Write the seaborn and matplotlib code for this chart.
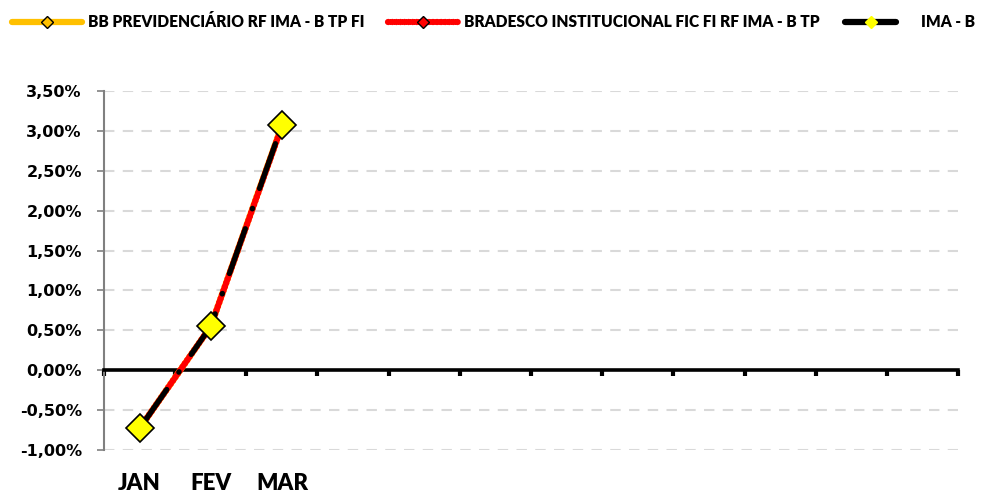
import numpy as np
import matplotlib.pyplot as plt
import seaborn as sns
from matplotlib.lines import Line2D
from matplotlib.ticker import FuncFormatter, MultipleLocator, FixedLocator, NullLocator

# Monthly returns (%)
months = ['JAN', 'FEV', 'MAR']
n_slots = 12  # the category axis keeps room for the whole year
bb_prev = [-0.73, 0.55, 3.07]
bradesco = [-0.73, 0.55, 3.06]
ima_b = [-0.73, 0.55, 3.07]
names = ['BB PREVIDENCIÁRIO RF IMA - B TP FI',
         'BRADESCO INSTITUCIONAL FIC FI RF IMA - B TP',
         'IMA - B']

sns.set_style('white')
plt.rcParams['font.family'] = ['Lato', 'DejaVu Sans']
plt.rcParams['font.weight'] = 'bold'
plt.rcParams['text.color'] = 'black'

fig = plt.figure(figsize=(9.84, 4.95), dpi=100)
ax = fig.add_axes([104 / 984, 1 - 450 / 495, 854 / 984, 359 / 495])

x = np.arange(len(months))

# yellow series (sits underneath)
sns.lineplot(x=x, y=bb_prev, ax=ax, color='#FFC000', linewidth=4.5, marker='D',
             markersize=7, markerfacecolor='#FFC000', markeredgecolor='black', zorder=3)
# red series, round dots
sns.lineplot(x=x, y=bradesco, ax=ax, color='#FF0000', linewidth=4.6, marker='D',
             markersize=7, markerfacecolor='#FF0000', markeredgecolor='black', zorder=4)
red_line = ax.lines[-1]
red_line.set_dashes([0.1, 0.55])
red_line.set_dash_capstyle('round')
# black series, long dash dot
sns.lineplot(x=x, y=ima_b, ax=ax, color='black', linewidth=3.8, marker='D',
             markersize=14, markerfacecolor='#FFFF00', markeredgecolor='black',
             markeredgewidth=1.2, zorder=5)
blk_line = ax.lines[-1]
blk_line.set_dashes([9, 4, 0.1, 4])
blk_line.set_dash_capstyle('round')

ax.set_xlim(-0.5, n_slots - 0.5)
ax.set_ylim(-1.0, 3.5)

# y axis
ax.yaxis.set_major_locator(MultipleLocator(0.5))
ax.yaxis.set_major_formatter(FuncFormatter(lambda v, p: f'{v:.2f}%'.replace('.', ',')))
ax.tick_params(axis='y', length=5, width=1.2, color='#808080', pad=11,
               labelcolor='black', left=True)
for lab in ax.get_yticklabels():
    lab.set_fontfamily('DejaVu Sans')
    lab.set_fontsize(11.5)
    lab.set_fontweight('bold')
ax.yaxis.grid(True, color='#D9D9D9', linestyle=(0, (5, 4)), linewidth=1.5)
ax.xaxis.grid(False)

# x axis on zero line, ticks at category boundaries
ax.spines['bottom'].set_position(('data', 0))
ax.spines['bottom'].set_color('black')
ax.spines['bottom'].set_linewidth(2.6)
ax.spines['bottom'].set_zorder(2.6)
ax.spines['left'].set_color('#808080')
ax.spines['left'].set_linewidth(1.5)
ax.spines['top'].set_visible(False)
ax.spines['right'].set_visible(False)
ax.xaxis.set_major_locator(NullLocator())
ax.xaxis.set_minor_locator(FixedLocator(np.arange(-0.5, n_slots, 1)))
ax.tick_params(axis='x', which='minor', bottom=True, length=4, width=3,
               color='black', direction='out')

for i, m in enumerate(months):
    ax.text(i, -0.092, m, transform=ax.get_xaxis_transform(), ha='center',
            va='center', fontsize=16, fontweight='heavy', color='black')

handles = [
    Line2D([], [], color='#FFC000', linewidth=4.5, marker='D', markersize=6,
           markerfacecolor='#FFC000', markeredgecolor='black', solid_capstyle='round'),
    Line2D([], [], color='#FF0000', linewidth=4.5, marker='D', markersize=6,
           markerfacecolor='#FF0000', markeredgecolor='black', dashes=[0.1, 0.55],
           dash_capstyle='round'),
    Line2D([], [], color='black', linewidth=4.5, marker='D', markersize=6,
           markerfacecolor='#FFFF00', markeredgecolor='#FFFF00', solid_capstyle='round'),
]
# one legend entry per column position, as in the original layout
starts = [12, 388, 845]
lens = [4.5, 4.5, 3.3]
for h, name, x0, hl in zip(handles, names, starts, lens):
    leg = fig.legend([h], [name], loc='center left', bbox_to_anchor=(x0 / 984, 1 - 22 / 495),
                     frameon=False, handlelength=hl, handletextpad=0.4 if hl > 4 else 1.6,
                     borderpad=0, borderaxespad=0, fontsize=11.2)
    for t in leg.get_texts():
        t.set_color('black')
        t.set_fontweight('heavy')

fig.savefig('out.png', dpi=100)
